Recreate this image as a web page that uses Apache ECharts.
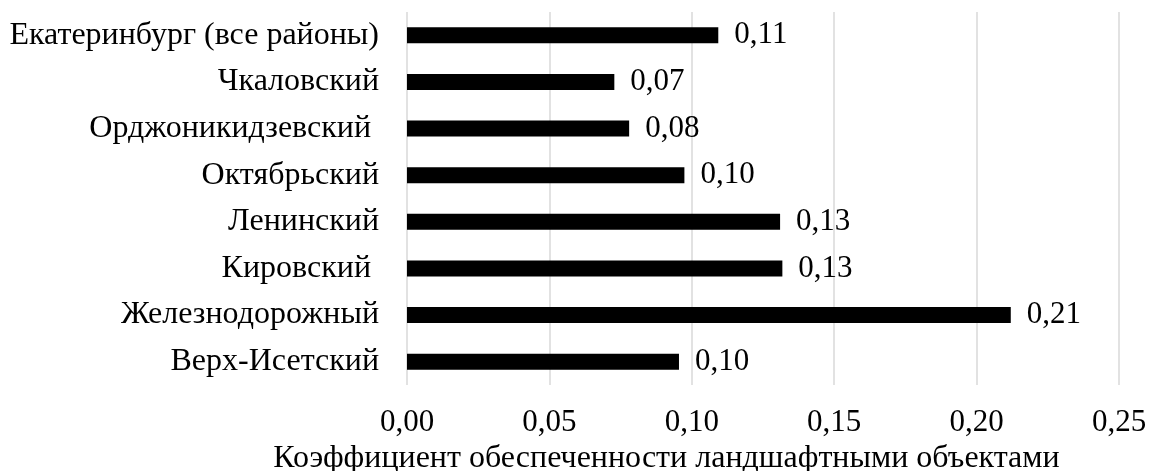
<!DOCTYPE html>
<html>
<head>
<meta charset="utf-8">
<script src="https://cdn.jsdelivr.net/npm/echarts@6/dist/echarts.min.js"></script>
<style>
  html, body { margin: 0; padding: 0; background: #ffffff; }
  #chart { width: 1157px; height: 471px; }
</style>
</head>
<body>
<div id="chart"></div>
<script>
// Districts, listed bottom to top as they appear on the category axis
const districts = [
  'Верх-Исетский',
  'Железнодорожный',
  'Кировский ',
  'Ленинский',
  'Октябрьский',
  'Орджоникидзевский ',
  'Чкаловский',
  'Екатеринбург (все районы)'
];

// Landscape provision coefficient per district
const coefficients = [0.0955, 0.212, 0.1318, 0.131, 0.0974, 0.078, 0.0728, 0.1093];

// Value axis ticks
const xTicks = [0, 0.05, 0.10, 0.15, 0.20, 0.25];

const axisTitle = 'Коэффициент обеспеченности ландшафтными объектами';

const fmt = v => v.toFixed(2).replace('.', ',');
const font = '"Liberation Serif", "Times New Roman", serif';

const chart = echarts.init(document.getElementById('chart'), null, { renderer: 'canvas' });

chart.setOption({
  animation: false,
  backgroundColor: '#ffffff',
  grid: {
    left: 407, right: 38, top: 12, bottom: 86,
    containLabel: false,
    outerBoundsMode: 'none'
  },
  xAxis: {
    type: 'value',
    min: xTicks[0],
    max: xTicks[xTicks.length - 1],
    interval: 0.05,
    axisLine: { show: false },
    axisTick: { show: false },
    splitLine: { show: true, lineStyle: { color: '#d9d9d9', width: 1.5 } },
    axisLabel: {
      color: '#000',
      fontFamily: font,
      fontSize: 31,
      margin: 22,
      formatter: v => fmt(v)
    },
    name: axisTitle,
    nameLocation: 'middle',
    nameGap: 52,
    nameTextStyle: {
      color: '#000',
      fontFamily: font,
      fontSize: 32,
      padding: [0, 193, 0, 0]
    }
  },
  yAxis: {
    type: 'category',
    data: districts,
    axisLine: { show: false },
    axisTick: { show: false },
    splitLine: { show: false },
    axisLabel: {
      color: '#000',
      fontFamily: font,
      fontSize: 32,
      margin: 28
    }
  },
  series: [{
    type: 'bar',
    data: coefficients,
    barWidth: 16,
    itemStyle: { color: '#000000' },
    label: {
      show: true,
      position: 'right',
      distance: 16,
      color: '#000',
      fontFamily: font,
      fontSize: 31,
      formatter: p => fmt(p.value)
    }
  }]
});
</script>
</body>
</html>
